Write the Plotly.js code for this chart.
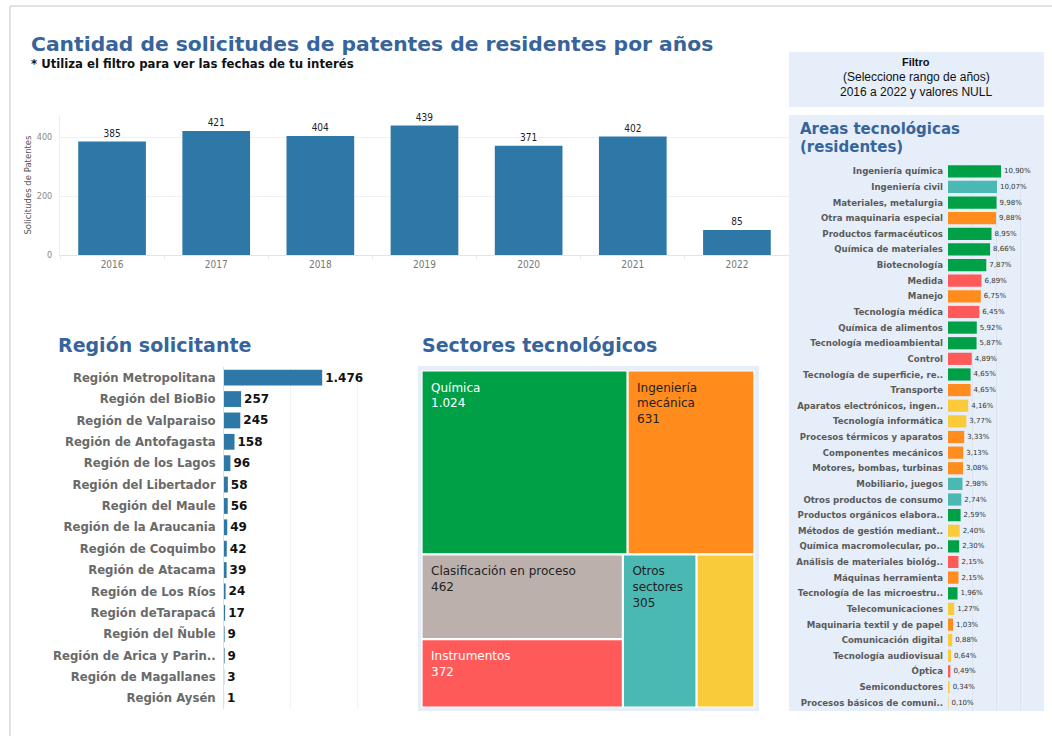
<!DOCTYPE html>
<html>
<head>
<meta charset="utf-8">
<script src="https://cdn.plot.ly/plotly-3.0.1.min.js"></script>
<style>
html,body{margin:0;padding:0;background:#fff;}
#chart{width:1052px;height:736px;}
</style>
</head>
<body>
<div id="chart"></div>
<script>
// ---------- DATA ----------
const years = ['2016','2017','2018','2019','2020','2021','2022'];
const yearCounts = [385, 421, 404, 439, 371, 402, 85];

const regions = ['Región Metropolitana','Región del BioBio','Región de Valparaiso','Región de Antofagasta',
  'Región de los Lagos','Región del Libertador','Región del Maule','Región de la Araucania',
  'Región de Coquimbo','Región de Atacama','Región de Los Ríos','Región deTarapacá',
  'Región del Ñuble','Región de Arica y Parin..','Región de Magallanes','Región Aysén'];
const regionCounts = [1476, 257, 245, 158, 96, 58, 56, 49, 42, 39, 24, 17, 9, 9, 3, 1];

const sectors = ['Química','Ingeniería mecánica','Clasificación en proceso','Instrumentos','Otros sectores','Ingeniería eléctrica'];
const sectorCounts = [1024, 631, 462, 372, 305, 240];
const sectorDisplay = ['Química','Ingeniería<br>mecánica','Clasificación en proceso','Instrumentos','Otros<br>sectores',''];

const areas = ['Ingeniería química','Ingeniería civil','Materiales, metalurgia','Otra maquinaria especial',
  'Productos farmacéuticos','Química de materiales','Biotecnología','Medida','Manejo','Tecnología médica',
  'Química de alimentos','Tecnología medioambiental','Control','Tecnología de superficie, re..','Transporte',
  'Aparatos electrónicos, ingen..','Tecnología informática','Procesos térmicos y aparatos','Componentes mecánicos',
  'Motores, bombas, turbinas','Mobiliario, juegos','Otros productos de consumo','Productos orgánicos elabora..',
  'Métodos de gestión mediant..','Química macromolecular, po..','Análisis de materiales biológ..','Máquinas herramienta',
  'Tecnología de las microestru..','Telecomunicaciones','Maquinaria textil y de papel','Comunicación digital',
  'Tecnología audiovisual','Óptica','Semiconductores','Procesos básicos de comuni..'];
const areaPct = [10.90,10.07,9.98,9.88,8.95,8.66,7.87,6.89,6.75,6.45,5.92,5.87,4.89,4.65,4.65,4.16,3.77,3.33,3.13,
  3.08,2.98,2.74,2.59,2.40,2.30,2.15,2.15,1.96,1.27,1.03,0.88,0.64,0.49,0.34,0.10];
const areaSector = ['Química','Otros sectores','Química','Ingeniería mecánica','Química','Química','Química',
  'Instrumentos','Ingeniería mecánica','Instrumentos','Química','Química','Instrumentos','Química','Ingeniería mecánica',
  'Ingeniería eléctrica','Ingeniería eléctrica','Ingeniería mecánica','Ingeniería mecánica','Ingeniería mecánica',
  'Otros sectores','Otros sectores','Química','Ingeniería eléctrica','Química','Instrumentos','Ingeniería mecánica',
  'Química','Ingeniería eléctrica','Ingeniería mecánica','Ingeniería eléctrica','Ingeniería eléctrica','Instrumentos',
  'Ingeniería eléctrica','Ingeniería eléctrica'];

// ---------- STYLE ----------
const sectorColor = {
  'Química':'#00a046','Ingeniería mecánica':'#ff8c1c','Clasificación en proceso':'#bcb0ac',
  'Instrumentos':'#ff5a5a','Otros sectores':'#4ab9b3','Ingeniería eléctrica':'#f9cb3b'};
const sectorTextColor = {
  'Química':'#ffffff','Ingeniería mecánica':'#222222','Clasificación en proceso':'#222222',
  'Instrumentos':'#ffffff','Otros sectores':'#222222','Ingeniería eléctrica':'#222222'};
const TITLE_BLUE = '#37649a';
const BAR_BLUE = '#2e78a8';
const PANEL = '#e6eef9';
const COND = '"DejaVu Sans Condensed", "Liberation Sans Narrow", "DejaVu Sans", sans-serif';
const DV = '"DejaVu Sans", sans-serif';

const W = 1052, H = 736;
const fx = x => x / W;
const fy = y => 1 - y / H;
const fmtThousands = n => String(n).replace(/\B(?=(\d{3})+(?!\d))/g, '.');
// small spacer line on top + en-space indent to mimic the reference's inner text padding
const padText = s => '<span style="font-size:2px">\u00A0</span><br>' + s.split('<br>').map(l => '\u2002' + l).join('<br>');

// ---------- TRACES ----------
const traceYears = {
  type:'bar', x: years, y: yearCounts, xaxis:'x', yaxis:'y',
  marker:{color: BAR_BLUE}, width: 0.65,
  text: yearCounts.map(String), textposition:'outside', cliponaxis:false,
  textfont:{family: COND, size:10, color:'#222'},
  hoverinfo:'skip'
};

const traceRegions = {
  type:'bar', orientation:'h', x: regionCounts, y: regions, xaxis:'x2', yaxis:'y2',
  marker:{color: BAR_BLUE}, width: 0.74,
  text: regionCounts.map(fmtThousands), textposition:'outside', cliponaxis:false,
  textfont:{family: DV, size:12, color:'#111', weight:'bold'},
  hoverinfo:'skip'
};

const traceAreas = {
  type:'bar', orientation:'h', x: areaPct, y: areas, xaxis:'x3', yaxis:'y3',
  marker:{color: areaSector.map(s => sectorColor[s])}, width: 0.78,
  text: areaPct.map(v => v.toFixed(2).replace('.', ',') + '%'), textposition:'outside', cliponaxis:false,
  textfont:{family: DV, size:7, color:'#333'},
  hoverinfo:'skip'
};

const traceTree = {
  type:'treemap',
  labels: sectors, parents: sectors.map(() => ''), values: sectorCounts,
  text: sectors.map((s, i) => sectorDisplay[i] ? padText(sectorDisplay[i] + '<br>' + fmtThousands(sectorCounts[i])) : ''),
  textinfo:'text', textposition:'top left',
  textfont:{family: DV, size:12, color: sectors.map(s => sectorTextColor[s])},
  marker:{colors: sectors.map(s => sectorColor[s]), line:{color:'#ffffff', width:1.2}, pad:{t:0,l:0,r:0,b:0}},
  tiling:{packing:'squarify', squarifyratio:1.618, pad:1},
  pathbar:{visible:false},
  domain:{x:[fx(422), fx(754)], y:[fy(707), fy(371)]},
  sort:true,
  hoverinfo:'skip'
};

// ---------- LAYOUT ----------
const ann = (text, x, y, size, opts) => Object.assign({
  text, x: fx(x), y: fy(y), xref:'paper', yref:'paper', showarrow:false,
  xanchor:'left', yanchor:'middle', font:{family: DV, size, color: TITLE_BLUE, weight:'bold'}
}, opts || {});

const layout = {
  width: W, height: H, margin:{l:0,r:0,t:0,b:0},
  paper_bgcolor:'#ffffff', plot_bgcolor:'rgba(0,0,0,0)',
  showlegend:false, separators:',.', font:{family: DV},
  xaxis:{domain:[fx(60), fx(789)], anchor:'y', type:'category', showgrid:false, zeroline:false,
    showline:true, linecolor:'#e4e4e4', ticks:'outside', tickson:'boundaries', ticklen:4, tickcolor:'#ececec',
    tickfont:{family: COND, size:10, color:'#777'}, fixedrange:true},
  yaxis:{domain:[fy(255), fy(115)], anchor:'x', range:[0, 475], tickvals:[0,200,400], gridcolor:'#f0f0f0',
    zeroline:false, showline:true, linecolor:'#eeeeee', ticks:'', ticklabelstandoff:5,
    tickfont:{family: COND, size:9, color:'#888'},
    title:{text:'Solicitudes de Patentes', font:{family: DV, size:8.5, color:'#555'}, standoff:3}, fixedrange:true},
  xaxis2:{domain:[fx(224), fx(375)], anchor:'y2', range:[0, 2270], dtick:1000, showticklabels:false, gridcolor:'#f2f2f2',
    zeroline:false, showline:false, fixedrange:true},
  yaxis2:{domain:[fy(709), fy(367)], anchor:'x2', type:'category', autorange:'reversed', showgrid:false, zeroline:false,
    showline:true, linecolor:'#e0e0e0', ticks:'', ticklabelstandoff:5,
    tickfont:{family: DV, size:11.7, color:'#6a6a6a', weight:'bold'}, fixedrange:true},
  xaxis3:{domain:[fx(948), fx(1037)], anchor:'y3', range:[0, 18.3], dtick:5, showticklabels:false, gridcolor:'#dce4ef',
    zeroline:false, showline:false, fixedrange:true},
  yaxis3:{domain:[fy(710.5), fy(163.5)], anchor:'x3', type:'category', autorange:'reversed', showgrid:false, zeroline:false,
    showline:false, ticks:'', ticklabelstandoff:4,
    tickfont:{family: DV, size:8.6, color:'#5a5a5a', weight:'bold'}, fixedrange:true},
  shapes:[
    {type:'line', xref:'paper', yref:'paper', x0:fx(10), x1:1, y0:fy(6), y1:fy(6), line:{color:'#e2e2e2', width:2}, layer:'below'},
    {type:'line', xref:'paper', yref:'paper', x0:fx(10), x1:fx(10), y0:fy(6), y1:0, line:{color:'#e2e2e2', width:2}, layer:'below'},
    {type:'rect', xref:'paper', yref:'paper', x0:fx(789), x1:fx(1044), y0:fy(107), y1:fy(52), fillcolor:PANEL, line:{width:0}, layer:'below'},
    {type:'rect', xref:'paper', yref:'paper', x0:fx(789), x1:fx(1044), y0:fy(711), y1:fy(115), fillcolor:PANEL, line:{width:0}, layer:'below'},
    {type:'rect', xref:'paper', yref:'paper', x0:fx(418), x1:fx(759), y0:fy(711), y1:fy(366), fillcolor:PANEL, line:{width:0}, layer:'below'}
  ],
  annotations:[
    ann('Cantidad de solicitudes de patentes de residentes por años', 29, 44, 20.3),
    ann('* Utiliza el filtro para ver las fechas de tu interés', 29, 64, 13, {font:{family: COND, size:13, color:'#111', weight:'bold'}}),
    ann('Región solicitante', 56, 345, 19),
    ann('Sectores tecnológicos', 420, 345, 19),
    ann('Areas tecnológicas', 798, 129, 15),
    ann('(residentes)', 798, 147, 15),
    ann('Filtro', 916, 62, 11, {xanchor:'center', font:{family:'"Liberation Sans", Arial, sans-serif', size:11, color:'#111', weight:'bold'}}),
    ann('(Seleccione rango de años)', 916, 77, 12, {xanchor:'center', font:{family:'"Liberation Sans", Arial, sans-serif', size:12, color:'#111'}}),
    ann('2016 a 2022 y valores NULL', 916, 92, 12, {xanchor:'center', font:{family:'"Liberation Sans", Arial, sans-serif', size:12, color:'#111'}})
  ]
};

Plotly.newPlot('chart', [traceYears, traceRegions, traceAreas, traceTree], layout, {displayModeBar:false, staticPlot:true});
</script>
</body>
</html>
